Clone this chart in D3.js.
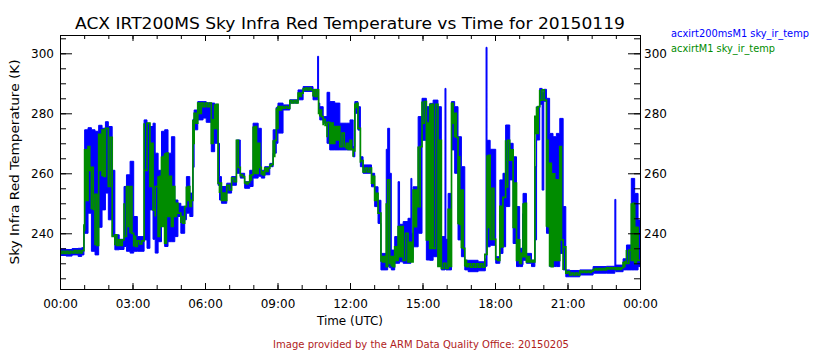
<!DOCTYPE html>
<html><head><meta charset="utf-8">
<script src="https://cdn.jsdelivr.net/npm/d3@7"></script>
<style>
body{margin:0;background:#fff;}
svg{display:block;}
text{font-family:"DejaVu Sans",sans-serif;}
</style></head>
<body><svg id="c" width="840" height="350"></svg>
<script>
const title = "ACX IRT200MS Sky Infra Red Temperature vs Time for 20150119";
const yLabel = "Sky Infra Red Temperature (K)";
const xLabel = "Time (UTC)";
const credit = "Image provided by the ARM Data Quality Office: 20150205";
const seriesNames = ["acxirt200msM1 sky_ir_temp", "acxirtM1 sky_ir_temp"];
const seriesColors = ["#0000ff", "#008c00"];
const yTicks = [240, 260, 280, 300];
const xTickHours = [0, 3, 6, 9, 12, 15, 18, 21, 24];
const xTickLabels = ["00:00","03:00","06:00","09:00","12:00","15:00","18:00","21:00","00:00"];

// [start hour, min K, max K] envelopes
const blueBins = [
[0.00,232.6,234.8],[0.25,232.4,234.6],[0.50,232.8,234.9],[0.75,232.3,235.0],[0.90,232.8,235.2],
[0.99,240.0,242.5],[1.02,240.0,274.5],[1.16,246.7,275.2],[1.30,234.0,274.5],[1.45,232.8,274.0],
[1.60,242.0,276.0],[1.74,247.8,275.0],[1.88,253.4,277.2],[2.00,244.5,275.6],[2.16,239.0,261.0],
[2.27,234.5,239.5],[2.45,234.6,238.0],[2.65,235.6,255.6],[2.75,234.0,259.5],[2.90,233.4,264.0],
[3.05,234.0,245.6],[3.20,234.0,238.9],[3.48,237.8,277.8],[3.60,235.0,276.7],[3.72,247.8,275.6],
[3.85,238.0,276.7],[3.94,233.4,266.7],[4.06,237.2,261.0],[4.20,245.6,274.0],[4.33,235.6,274.5],
[4.47,237.2,266.7],[4.61,237.2,272.2],[4.75,238.9,251.1],[4.88,245.6,250.0],[5.00,240.0,249.0],
[5.16,244.5,249.0],[5.23,246.7,258.9],[5.37,245.6,253.4],[5.50,262.0,278.0],[5.55,274.5,281.1],
[5.70,277.8,283.9],[5.92,278.4,283.9],[6.05,277.0,283.5],[6.26,267.2,283.4],[6.40,270.0,283.0],
[6.54,256.0,270.0],[6.60,251.1,258.9],[6.68,250.0,255.6],[6.90,253.4,256.7],[7.10,256.0,258.9],
[7.30,260.0,271.1],[7.46,258.4,260.0],[7.64,255.0,257.2],[7.85,255.6,261.0],[7.99,258.4,276.7],
[8.20,259.0,275.0],[8.33,258.4,261.0],[8.47,259.5,262.2],[8.68,262.2,263.3],[8.82,266.7,274.5],
[8.95,270.0,282.0],[9.02,273.4,283.4],[9.23,281.1,282.8],[9.51,283.4,284.5],[9.85,284.5,287.8],
[10.06,287.3,288.9],[10.47,284.5,288.0],[10.66,285.0,299.0],[10.70,280.0,283.4],[10.75,277.8,282.2],
[10.89,276.7,278.9],[11.05,270.0,287.0],[11.16,267.8,283.9],[11.37,267.8,283.4],[11.58,267.8,276.7],
[11.85,267.8,276.7],[12.00,267.8,277.8],[12.13,265.5,268.9],[12.20,280.0,283.9],[12.33,274.4,282.2],
[12.43,262.2,265.5],[12.54,260.0,262.8],[12.89,255.5,260.0],[13.02,248.9,255.5],[13.16,243.3,251.0],
[13.28,227.8,233.3],[13.50,227.8,268.0],[13.56,229.0,275.0],[13.64,228.5,260.0],[13.71,227.8,234.4],
[13.85,230.0,238.9],[13.99,230.0,257.2],[14.05,230.5,243.0],[14.20,230.0,243.9],[14.40,230.0,245.0],
[14.52,231.0,258.3],[14.56,231.5,240.0],[14.61,235.5,255.5],[14.82,240.0,278.9],[14.98,271.0,285.0],
[15.16,231.1,282.2],[15.30,231.0,283.3],[15.44,232.2,284.4],[15.64,229.0,282.2],[15.78,227.8,238.9],
[15.93,228.0,288.3],[15.97,227.8,238.0],[16.06,227.8,253.3],[16.20,267.8,283.9],[16.33,260.0,282.2],
[16.47,237.8,272.2],[16.61,232.2,262.2],[16.75,227.8,231.0],[16.89,227.2,231.0],[17.30,227.5,230.5],
[17.60,229.0,231.5],[17.63,229.0,302.0],[17.67,235.5,271.0],[17.80,236.0,268.0],[18.03,230.0,232.2],
[18.20,233.3,257.8],[18.33,235.5,260.0],[18.44,248.9,276.1],[18.61,257.8,270.0],[18.75,236.6,265.5],
[18.89,228.9,248.9],[19.02,228.9,235.0],[19.14,229.5,246.5],[19.16,231.0,253.3],[19.30,230.0,233.3],
[19.51,228.9,231.0],[19.65,237.8,262.2],[19.72,271.1,282.2],[19.85,283.0,288.3],[19.95,254.4,287.0],
[20.02,284.0,288.0],[20.13,240.0,285.0],[20.26,228.9,273.3],[20.40,228.9,272.2],[20.54,228.9,273.3],
[20.68,233.3,278.3],[20.82,227.8,248.9],[20.93,225.5,227.8],[21.09,225.5,227.6],[21.51,226.1,227.8],
[22.06,226.7,228.9],[22.61,226.7,229.0],[22.96,227.5,251.3],[23.00,227.2,229.4],[23.30,227.8,231.5],
[23.44,227.8,236.1],[23.64,227.8,258.3],[23.78,227.8,253.3],[23.92,228.9,244.4]
];
const greenBins = [
[0.00,233.3,234.0],[0.50,233.5,234.2],[0.99,241.0,243.0],[1.02,251.0,267.8],[1.16,261.0,268.9],
[1.30,248.0,262.0],[1.45,236.0,253.0],[1.60,261.0,273.0],[1.74,259.0,274.5],[1.88,269.0,275.0],
[2.00,255.6,272.0],[2.16,239.0,251.0],[2.27,236.0,239.5],[2.35,236.0,237.8],[2.65,239.0,250.0],
[2.75,242.3,255.6],[2.90,240.0,255.6],[3.05,235.6,239.0],[3.20,236.5,237.5],[3.48,261.0,276.7],
[3.60,261.0,276.7],[3.72,255.6,270.0],[3.85,247.8,269.0],[3.94,245.6,255.6],[4.06,239.0,259.0],
[4.20,242.3,265.6],[4.33,236.7,266.7],[4.47,245.6,259.0],[4.61,242.3,255.6],[4.75,245.6,250.0],
[4.88,246.7,248.9],[5.00,243.4,245.6],[5.16,246.7,248.9],[5.23,251.0,255.6],[5.37,249.0,251.0],
[5.50,270.0,277.8],[5.55,276.7,280.0],[5.70,280.0,283.4],[5.92,282.2,283.4],[6.26,270.0,277.8],
[6.40,275.0,283.0],[6.54,256.7,265.0],[6.60,253.4,256.7],[6.68,251.0,253.4],[6.90,254.5,256.0],
[7.10,257.2,258.4],[7.30,262.0,271.0],[7.46,258.9,259.5],[7.64,256.5,257.0],[7.85,257.8,259.5],
[7.99,260.0,275.6],[8.20,262.0,270.0],[8.33,259.5,260.5],[8.47,260.6,261.7],[8.68,262.5,263.0],
[8.82,265.6,271.0],[8.95,275.0,281.7],[9.02,281.1,282.2],[9.23,281.7,282.2],[9.51,283.5,284.2],
[9.85,285.6,286.7],[10.06,287.8,288.4],[10.47,285.6,287.8],[10.70,280.0,282.0],[10.75,278.9,281.1],
[10.89,276.0,278.0],[11.05,272.0,277.0],[11.16,270.0,276.7],[11.37,271.1,275.6],[11.58,268.9,273.4],
[11.85,268.0,270.0],[12.00,268.0,271.0],[12.13,265.5,267.5],[12.20,282.0,283.3],[12.33,275.0,280.0],
[12.43,263.5,264.2],[12.54,260.5,261.7],[12.89,256.7,259.0],[13.02,251.0,253.3],[13.16,246.7,250.0],
[13.28,230.5,232.2],[13.50,228.9,250.0],[13.56,235.0,257.8],[13.64,230.0,245.0],[13.71,228.9,232.2],
[13.85,231.0,235.5],[13.99,232.2,242.2],[14.20,231.0,240.0],[14.40,230.5,237.0],[14.61,242.2,254.4],
[14.82,248.9,268.9],[14.98,276.7,283.9],[15.16,237.8,276.7],[15.30,235.0,283.0],[15.44,235.0,283.0],
[15.64,229.0,271.0],[15.78,228.3,230.0],[16.06,229.0,248.0],[16.20,276.7,283.3],[16.33,272.0,280.0],
[16.47,243.0,265.5],[16.61,235.0,254.4],[16.75,228.9,231.0],[16.89,228.7,229.8],[17.58,231.0,233.0],
[17.67,242.0,266.0],[17.80,238.0,255.0],[18.03,231.0,231.5],[18.20,235.5,249.0],[18.33,242.0,252.0],
[18.44,255.5,271.0],[18.61,264.4,267.8],[18.75,242.0,256.7],[18.89,231.0,237.8],[19.02,230.0,233.3],
[19.16,232.2,250.0],[19.30,230.5,232.2],[19.51,230.5,231.0],[19.65,257.8,279.0],[19.72,273.3,282.2],
[19.85,284.4,287.8],[20.13,242.2,271.0],[20.26,228.9,263.3],[20.40,231.0,259.8],[20.54,231.0,257.8],
[20.68,237.8,268.9],[20.82,227.8,235.5],[20.93,226.7,227.2],[21.09,226.1,226.7],[21.51,227.0,227.4],
[22.06,227.8,228.2],[22.61,228.1,228.5],[23.00,228.0,228.5],[23.30,228.9,230.5],[23.44,230.0,234.4],
[23.64,231.0,250.0],[23.78,230.0,242.0],[23.92,231.0,242.2]
];

const svg = d3.select("#c");
const L = 60, R = 640, T = 35, B = 289;
const x = d3.scaleLinear().domain([0, 24]).range([L, R]);
const y = d3.scaleLinear().domain([221.43, 306.1]).range([B, T]);

const g = svg.append("g");
svg.append("clipPath").attr("id","pc").append("rect")
  .attr("x", L).attr("y", T).attr("width", R - L).attr("height", B - T);

function closeBins(bins){ const last = bins[bins.length-1]; return bins.concat([[24, last[1], last[2]]]); }
const area = d3.area().curve(d3.curveStepAfter)
  .x(d => x(d[0])).y0(d => y(d[1])).y1(d => y(d[2]));

// green: drawn as a dense trace swinging between each bin's minimum and maximum (pixel positions)
function tracePx(bins, step){
  const pts = [];
  let up = false;
  bins.forEach((b, i) => {
    const x0 = x(b[0]), x1 = x(i + 1 < bins.length ? bins[i+1][0] : 24);
    const n = Math.max(1, Math.round((x1 - x0) / step));
    for (let k = 0; k < n; k++) {
      const xx = x0 + (x1 - x0) * k / n;
      const a = up ? [y(b[1]), y(b[2])] : [y(b[2]), y(b[1])];
      pts.push([xx, a[0]], [xx, a[1]]);
      up = !up;
    }
  });
  const last = bins[bins.length-1];
  pts.push([x(24), y(up ? last[1] : last[2])]);
  return pts;
}
const linePx = d3.line().curve(d3.curveStepAfter);

const plot = g.append("g").attr("clip-path","url(#pc)");
plot.append("path").datum(closeBins(blueBins)).attr("d", area)
  .attr("fill", seriesColors[0]).attr("stroke", seriesColors[0]).attr("stroke-width", 1);
plot.append("path").datum(tracePx(greenBins, 2.0)).attr("d", linePx)
  .attr("fill", "none").attr("stroke", seriesColors[1]).attr("stroke-width", 1.7);

// axes
const minorY = d3.range(225, 306, 5);
const minorX = d3.range(0, 25, 1);
function styleAxis(sel){ sel.select(".domain").remove(); sel.selectAll("line").attr("stroke","#000"); sel.selectAll("text").attr("font-size","12px").attr("fill","#000"); }

g.append("g").attr("transform",`translate(${L},0)`)
  .call(d3.axisLeft(y).tickValues(minorY).tickSizeInner(-6).tickSizeOuter(0).tickFormat(""))
  .call(styleAxis);
g.append("g").attr("transform",`translate(${L},0)`)
  .call(d3.axisLeft(y).tickValues(yTicks).tickSizeInner(-12).tickSizeOuter(0).tickPadding(6).tickFormat(d3.format("d")))
  .call(styleAxis);
g.append("g").attr("transform",`translate(${R},0)`)
  .call(d3.axisRight(y).tickValues(minorY).tickSizeInner(-6).tickSizeOuter(0).tickFormat(""))
  .call(styleAxis);
g.append("g").attr("transform",`translate(${R},0)`)
  .call(d3.axisRight(y).tickValues(yTicks).tickSizeInner(-12).tickSizeOuter(0).tickPadding(4).tickFormat(d3.format("d")))
  .call(styleAxis);
g.append("g").attr("transform",`translate(0,${B})`)
  .call(d3.axisBottom(x).tickValues(minorX).tickSizeInner(-4).tickSizeOuter(0).tickFormat(""))
  .call(styleAxis);
g.append("g").attr("transform",`translate(0,${B})`)
  .call(d3.axisBottom(x).tickValues(xTickHours).tickSizeInner(-6).tickSizeOuter(0).tickPadding(10)
    .tickFormat((d,i) => xTickLabels[i]))
  .call(styleAxis);
g.append("g").attr("transform",`translate(0,${T})`)
  .call(d3.axisTop(x).tickValues(minorX).tickSizeInner(-4).tickSizeOuter(0).tickFormat(""))
  .call(styleAxis);
g.append("g").attr("transform",`translate(0,${T})`)
  .call(d3.axisTop(x).tickValues(xTickHours).tickSizeInner(-6).tickSizeOuter(0).tickFormat(""))
  .call(styleAxis);

g.append("rect").attr("x", L).attr("y", T).attr("width", R - L).attr("height", B - T)
  .attr("fill","none").attr("stroke","#000").attr("stroke-width",1).attr("shape-rendering","crispEdges");

// texts
svg.append("text").attr("x", 350).attr("y", 29).attr("text-anchor","middle")
  .attr("font-size","15.5px").attr("textLength", 550).attr("lengthAdjust","spacingAndGlyphs").text(title);
svg.append("text").attr("transform","translate(19,162) rotate(-90)").attr("text-anchor","middle")
  .attr("font-size","12.5px").attr("textLength", 205).attr("lengthAdjust","spacingAndGlyphs").text(yLabel);
svg.append("text").attr("x", 350).attr("y", 325).attr("text-anchor","middle")
  .attr("font-size","12px").attr("textLength", 66).attr("lengthAdjust","spacingAndGlyphs").text(xLabel);
svg.append("text").attr("x", 421).attr("y", 348).attr("text-anchor","middle")
  .attr("font-size","10px").attr("fill","#b01c1c").attr("textLength", 296).attr("lengthAdjust","spacingAndGlyphs").text(credit);
const legY = [37, 52];
seriesNames.forEach((n, i) => {
  svg.append("text").attr("x", 671).attr("y", legY[i]).attr("font-size","10px")
    .attr("fill", seriesColors[i]).attr("textLength", i === 0 ? 138 : 104).attr("lengthAdjust","spacingAndGlyphs").text(n);
});
</script></body></html>
